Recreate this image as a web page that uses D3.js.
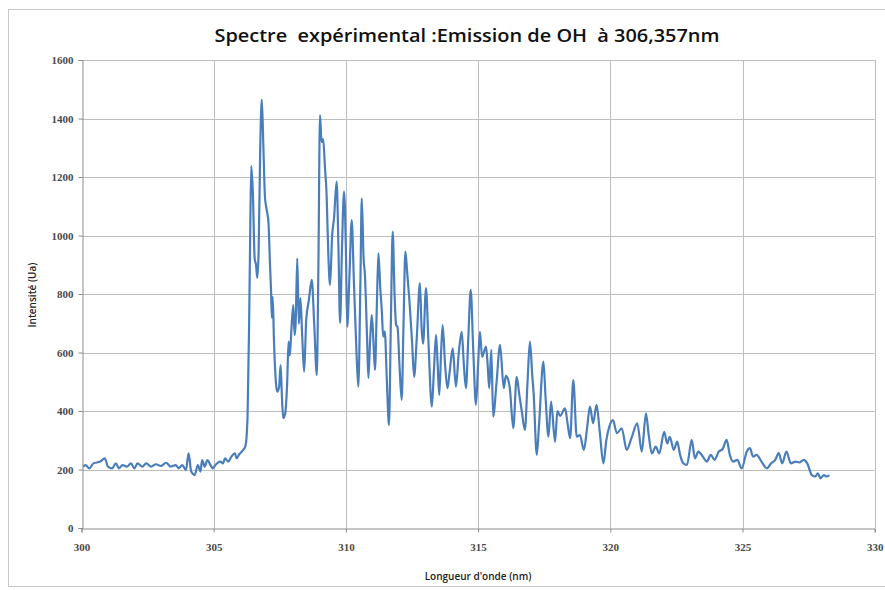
<!DOCTYPE html>
<html><head><meta charset="utf-8">
<script src="https://cdn.jsdelivr.net/npm/d3@7"></script>
<style>html,body{margin:0;padding:0;background:#fff;}svg{display:block;}</style>
</head><body>
<svg id="c" width="885" height="590"></svg>
<script>
const titleText = "Spectre  expérimental :Emission de OH  à 306,357nm";
const xTitle = "Longueur d'onde (nm)";
const yTitle = "Intensité (Ua)";
const xTicks = [300, 305, 310, 315, 320, 325, 330];
const yTicks = [0, 200, 400, 600, 800, 1000, 1200, 1400, 1600];

const wavelength = [
300.06,300.15,300.30,300.45,300.71,300.88,301.00,301.16,301.30,301.42,301.55,301.72,301.87,302.00,302.12,302.30,302.45,302.63,302.82,303.00,
303.20,303.38,303.56,303.68,303.81,303.95,304.05,304.15,304.28,304.40,304.50,304.56,304.66,304.76,304.88,304.97,305.06,305.25,305.35,305.43,
305.55,305.67,305.80,305.87,305.95,306.10,306.20,306.28,306.34,306.38,306.42,306.48,306.55,306.60,306.65,306.70,306.76,306.82,306.88,306.94,
307.00,307.07,307.13,307.17,307.20,307.23,307.28,307.35,307.40,307.47,307.53,307.58,307.63,307.70,307.78,307.83,307.88,307.94,308.01,308.06,
308.10,308.16,308.22,308.28,308.35,308.42,308.50,308.60,308.71,308.80,308.90,308.96,309.02,309.08,309.14,309.21,309.27,309.33,309.40,309.48,
309.55,309.65,309.72,309.78,309.85,309.93,310.00,310.05,310.13,310.22,310.30,310.40,310.47,310.55,310.60,310.67,310.72,310.80,310.85,310.92,
310.98,311.05,311.10,311.17,311.23,311.30,311.36,311.41,311.47,311.55,311.63,311.70,311.77,311.84,311.90,311.95,312.03,312.11,312.18,312.25,
312.32,312.40,312.50,312.58,312.68,312.80,312.86,312.92,313.03,313.12,313.25,313.33,313.41,313.47,313.53,313.60,313.66,313.75,313.84,313.92,
314.04,314.16,314.27,314.38,314.46,314.54,314.63,314.72,314.82,314.92,315.00,315.07,315.15,315.30,315.36,315.42,315.50,315.57,315.70,315.83,
315.97,316.05,316.14,316.20,316.33,316.46,316.55,316.65,316.77,316.87,316.96,317.05,317.10,317.22,317.30,317.47,317.55,317.66,317.76,317.91,
318.00,318.10,318.29,318.38,318.48,318.60,318.73,318.85,319.00,319.12,319.23,319.35,319.48,319.60,319.74,319.85,319.96,320.10,320.25,320.43,
320.62,320.80,321.02,321.19,321.35,321.45,321.57,321.72,321.85,322.04,322.15,322.25,322.40,322.53,322.64,322.76,322.90,323.08,323.20,323.33,
323.50,323.65,323.80,323.94,324.10,324.25,324.40,324.52,324.65,324.80,324.97,325.16,325.28,325.40,325.53,325.72,325.92,326.08,326.24,326.37,
326.50,326.66,326.83,327.00,327.15,327.32,327.45,327.62,327.75,327.85,327.95,328.08,328.18,328.28
];
const intensity = [
210,215,204,221,227,238,210,204,221,204,215,210,221,204,221,210,221,210,218,212,
223,210,215,204,215,198,255,193,181,215,193,232,210,232,215,204,215,227,221,238,
227,244,255,238,250,265,280,380,700,1000,1238,1150,920,900,855,950,1300,1465,1300,1130,
1090,1047,900,808,718,790,640,500,466,480,557,450,376,390,500,637,590,680,762,659,
700,922,698,786,650,534,712,780,848,700,523,900,1412,1320,1330,1230,1140,950,831,1000,
1059,1184,950,701,950,1150,950,688,850,1053,850,600,483,850,1127,920,865,650,513,650,
728,620,540,760,939,820,740,654,672,500,352,700,1013,800,694,688,550,438,700,945,
871,780,640,517,650,837,690,630,820,640,415,540,660,560,455,600,694,560,478,530,
614,483,600,671,560,478,650,814,600,421,560,671,585,620,560,478,609,381,500,626,
478,520,506,478,341,517,461,400,335,500,637,520,461,250,346,569,450,312,432,295,
400,383,409,360,307,506,312,318,267,340,415,358,421,330,221,300,346,369,324,341,
267,307,358,261,392,320,255,278,255,329,289,312,267,295,250,221,216,301,238,261,
244,227,250,233,261,270,301,250,227,233,204,261,273,244,250,227,204,221,233,256,
221,261,221,227,224,233,221,181,176,187,170,181,176,181
];

const svg = d3.select("#c");
const m = {left: 81.5, right: 874.7, top: 60, bottom: 528};

// outer frame
svg.append("rect").attr("x", 8.5).attr("y", 9.5).attr("width", 890).attr("height", 577)
  .attr("fill", "#fff").attr("stroke", "#c8c8c8").attr("stroke-width", 1);

const x = d3.scaleLinear().domain([300, 330]).range([m.left, m.right]);
const y = d3.scaleLinear().domain([0, 1600]).range([m.bottom, m.top]);

// gridlines
const g = svg.append("g");
g.selectAll("line.h").data(yTicks.filter(v => v > 0)).join("line")
  .attr("x1", m.left).attr("x2", m.right)
  .attr("y1", d => Math.round(y(d)) + 0.5).attr("y2", d => Math.round(y(d)) + 0.5)
  .attr("stroke", "#bdbdbd").attr("stroke-width", 1);
g.selectAll("line.v").data(xTicks.filter(v => v > 300)).join("line")
  .attr("y1", m.top).attr("y2", m.bottom)
  .attr("x1", d => Math.round(x(d)) + 0.5).attr("x2", d => Math.round(x(d)) + 0.5)
  .attr("stroke", "#bdbdbd").attr("stroke-width", 1);

// axes
const xAxis = d3.axisBottom(x).tickValues(xTicks).tickSize(4).tickPadding(11).tickFormat(d3.format("d"));
const yAxis = d3.axisLeft(y).tickValues(yTicks).tickSize(4).tickPadding(5).tickFormat(d3.format("d"));
const ax = svg.append("g").attr("transform", `translate(0,${Math.round(m.bottom)+0.5})`).call(xAxis);
const ay = svg.append("g").attr("transform", `translate(${Math.round(m.left)+0.5},0)`).call(yAxis);
[ax, ay].forEach(a => {
  a.select(".domain").attr("stroke", "#8c8c8c");
  a.selectAll(".tick line").attr("stroke", "#8c8c8c");
  a.selectAll("text").attr("font-family", "'Liberation Serif', serif").attr("font-size", 11)
   .attr("font-weight", "bold").attr("fill", "#4a4a4a");
});

// data line
const pts = wavelength.map((w, i) => [w, intensity[i]]);
svg.append("path").datum(pts)
  .attr("fill", "none").attr("stroke", "#4a7ebb").attr("stroke-width", 2.2)
  .attr("stroke-linejoin", "round")
  .attr("d", d3.line().curve(d3.curveMonotoneX).x(d => x(d[0])).y(d => y(d[1])));

// titles
svg.append("text").attr("x", 467).attr("y", 42).attr("text-anchor", "middle")
  .attr("font-family", "'Open Sans', sans-serif").attr("font-weight", 600).attr("font-size", 18)
  .attr("textLength", 505).attr("lengthAdjust", "spacingAndGlyphs")
  .attr("fill", "#111").style("white-space", "pre").text(titleText);
svg.append("text").attr("x", 478).attr("y", 580).attr("text-anchor", "middle")
  .attr("font-family", "'Open Sans', sans-serif").attr("font-weight", 600).attr("font-size", 10)
  .attr("fill", "#222").text(xTitle);
svg.append("text").attr("transform", "translate(36,295) rotate(-90)").attr("text-anchor", "middle")
  .attr("font-family", "'Open Sans', sans-serif").attr("font-weight", 600).attr("font-size", 10)
  .attr("fill", "#222").text(yTitle);
</script>
</body></html>
